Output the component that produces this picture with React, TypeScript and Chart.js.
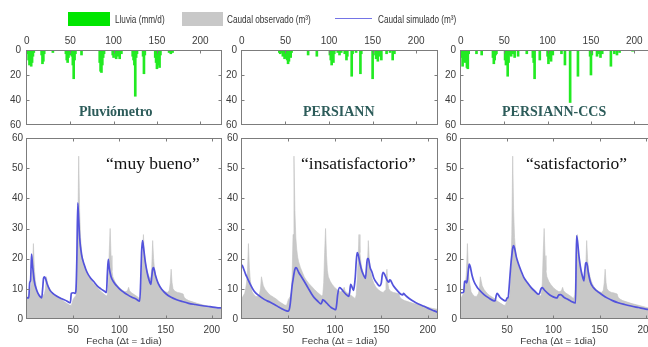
import React, { useEffect, useRef } from 'react';
import { Chart, registerables } from 'chart.js';

Chart.register(...registerables);

// ---------- data ----------
const topXTicks = [0, 50, 100, 150, 200];
const bottomXTicks = [50, 100, 150, 200];
const rainYTicks = [0, 20, 40, 60];
const flowYTicks = [0, 10, 20, 30, 40, 50, 60];

const panelNames = ['Pluviómetro', 'PERSIANN', 'PERSIANN-CCS'];
const panelRatings = ['“muy bueno”', '“insatisfactorio”', '“satisfactorio”'];
const legendLabels = ['Lluvia (mm/d)', 'Caudal observado (m³)', 'Caudal simulado (m³)'];
const xTitle = 'Fecha (Δt = 1dia)';

// observed discharge (same in every panel)
const obsDays = [0,1,2,3,4,5,6,7,8,9,10,11,13,15,17,19,20,21,22,23,25,27,29,31,34,37,40,43,46,48,49,50,51,52,53,54,55,56,57,58,59,60,61,63,65,67,69,72,75,78,81,84,86,87,88,89,90,91,92,93,95,97,100,103,106,108,109,110,111,113,116,119,121,122,123,124,125,126,127,128,129,131,133,134,135,136,137,138,140,142,144,147,150,152,154,155,156,157,158,160,163,166,169,170,172,175,180,185,190,195,200,205,211];
const obsFlow = [7,7.5,8,8.5,10,12,16,25,17,13,11,9,8,7.5,7.5,8.5,10,14,12.5,11,9.8,9,8.3,7.8,7.2,6.6,5.8,5.2,4.6,4.5,5.5,6.5,7,7.5,9,14,28,54,36,27,23,20.5,19,17,15.5,14,13,11.8,10.8,9.8,8.9,8.1,7.6,8,12,22,30,21,16,14,12.5,11.5,10.4,9.6,9,9.2,9.6,10.5,9.4,8.7,8.1,7.5,7,6.8,8,13,20,28,22,19,17,15,13.5,13.5,17,26,20,16.5,13.5,11.8,10.6,9.6,9,8.8,9.5,12,16.5,12,10,9.2,8.8,8.6,8.3,7.2,6.6,6.1,5.6,5.1,4.7,4.3,3.9,3.5,3.2];

// rainfall, rain gauge
const rainPluvDays = [1,2,3,4,5,6,7,8,17,18,19,20,30,45,46,47,48,50,52,53,54,55,56,63,84,85,86,87,88,89,99,100,101,103,105,107,109,122,123,124,125,126,127,134,135,136,148,149,150,151,152,153,154,164,166,168];
const rainPluvMm = [3,8,12,6,13,10,5,2,4,11,9,3,2,3,8,10,6,4,5,12,23,8,3,4,10,17,18,12,6,3,4,6,3,7,5,7,3,5,8,12,37,6,3,5,19,4,6,10,15,12,8,14,4,2,3,2];

// rainfall, PERSIANN
const rainPersDays = [43,44,46,47,48,49,50,51,52,53,54,55,56,57,76,86,101,102,103,104,105,106,110,112,114,118,120,121,126,127,131,136,137,150,151,154,156,158,160,166,170,173,175];
const rainPersMm = [2,3,2,5,3,7,4,6,8,11,9,5,6,2,4,5,4,8,12,6,10,3,2,4,2,3,8,5,21,3,2,19,3,23,4,7,9,5,8,3,2,8,3];

// rainfall, PERSIANN-CCS
const rainCcsDays = [1,2,3,4,5,6,7,8,9,18,24,37,38,39,40,41,51,52,53,54,55,56,58,60,62,66,76,83,84,85,91,100,101,103,104,106,116,120,126,135,149,150,151,157,159,161,163,173,177,180,183,198];
const rainCcsMm = [6,13,9,4,10,7,14,15,3,3,4,6,11,8,4,3,8,12,6,21,10,4,5,3,6,5,3,6,10,23,8,5,11,7,9,4,3,12,42,21,5,20,4,5,3,6,3,13,3,4,2,1];

// simulated discharge
const simPluvDays = [0,2,3,4,5,6,8,10,12,14,16,17,18,19,20,22,25,28,32,37,43,47,48,50,52,53,54,55,56,57,59,62,65,69,72,76,80,84,86,87,88,89,91,94,97,101,105,109,113,118,122,123,124,125,126,128,130,132,134,135,136,137,139,142,146,151,156,162,168,175,182,190,198,205,211];
const simPluvFlow = [7,7,12,13,21.5,18,12.5,10,8.5,7.5,7,10,13.5,14,13.5,11.5,9.5,8.5,7.6,6.8,6,5.4,8.5,8.7,8.5,9.5,20,38.5,33,27,21.5,18,15.5,13.5,12.5,11,10,9.2,8.8,15,19.8,17,14,12.2,11,9.7,8.8,8,7.3,6.6,5.9,12,22,26,24,19,15.5,13,11.5,14,16.5,17,14.5,11.8,9.8,8.2,7.2,6.4,5.8,5.2,4.8,4.4,4.1,3.8,3.6];

const simPersDays = [0,2,4,6,9,13,18,24,30,35,40,44,48,50,51,52,53,54,55,56,57,58,59,61,64,67,71,75,78,82,85,86,87,88,90,93,96,99,101,102,103,105,107,109,112,115,116,117,118,120,121,122,123,124,125,127,129,131,133,134,135,136,138,140,142,145,148,150,151,152,154,156,158,159,160,163,167,171,173,174,176,180,185,190,196,202,207,211];
const simPersFlow = [18,16.5,14.8,13.5,11.5,9.3,7.8,6.5,5.6,4.8,3.9,3.2,2.7,2.6,3.2,5,8,11,13,15,16.5,17,16.8,15.5,14,12.5,10.4,8.3,7,5.8,5,5.5,6.4,6.2,5.7,4.7,3.8,3.3,3.1,5,8,10.4,10,9.2,8.2,7.5,9,11.5,11,9.5,11,14,19,22,21.5,18.5,16,14.5,13.5,17,20,20,17,15.5,13.5,12,11,12,14.5,15.5,14.5,13,12.2,13,12.8,11,9.5,8.2,8,8.5,7.8,6.8,5.8,5,4.2,3.3,2.7,2.2];

const simCcsDays = [0,2,3,4,5,6,7,8,9,10,12,14,17,20,25,30,35,37,38,39,40,42,45,48,49,50,51,52,53,54,55,56,57,58,60,62,65,68,72,76,80,84,85,86,87,88,90,94,98,102,104,105,106,108,111,115,119,124,125,126,128,130,132,133,134,135,136,138,140,143,147,152,158,164,170,177,184,192,200,206,211];
const simCcsFlow = [8.7,8.7,9,12.5,12.6,12,13,16,18.2,17.5,14.5,12.5,10.8,9.6,8.1,7,6.1,6,7.5,8.5,8.3,7.3,6.5,6,6.3,7,7,10,14,18,21,23.5,24.3,23.5,20.5,18.5,16,13.8,12,10.4,9.2,8.2,8.5,9.5,10.2,10.4,9.7,8.5,7.6,7.1,7,7.6,8,8.1,7.3,6.6,5.9,5.3,27.6,26,20,16,13.5,12.6,16,18.5,18.7,15,12.3,10.5,9.3,8.2,7,6.1,5.4,4.8,4.3,3.8,3.3,3.1,2.9];

// ---------- layout / style ----------
const CW = 680;
const CH = 347;
const TOP = { top: 50, bottom: 125 };
const BOT = { top: 138, bottom: 319 };
const Y_AXIS_W = 24;
const TICK_FONT = { family: '"Liberation Sans", Arial, sans-serif', size: 10 };
const TICK_COLOR = '#3c3c3c';
const GREEN = '#22ea22';
const GRAY = '#c8c8c8';
const BLUE = '#5353dc';

const PANELS = [
  { left: 26, right: 222, topPad: 5, rainDays: rainPluvDays, rainMm: rainPluvMm, simDays: simPluvDays, simFlow: simPluvFlow, nameX: 79, noteX: 106 },
  { left: 241, right: 438, topPad: 4, rainDays: rainPersDays, rainMm: rainPersMm, simDays: simPersDays, simFlow: simPersFlow, nameX: 303, noteX: 301 },
  { left: 460, right: 656, topPad: 4, rainDays: rainCcsDays, rainMm: rainCcsMm, simDays: simCcsDays, simFlow: simCcsFlow, nameX: 502, noteX: 526 },
];

const pairs = (xs: number[], ys: number[]) => xs.map((x, i) => ({ x, y: ys[i] }));
const fixTicks = (vals: number[]) => (s: any) => { s.ticks = vals.map((v) => ({ value: v })); };

const boxPlugin = {
  id: 'matlabBox',
  afterDraw(chart: any) {
    const { ctx, chartArea: a, scales } = chart;
    const L = Math.round(a.left) + 0.5;
    const R = Math.round(a.right) - 0.5;
    const T = Math.round(a.top) + 0.5;
    const B = Math.round(a.bottom) - 0.5;
    ctx.save();
    ctx.strokeStyle = '#7c7c7c';
    ctx.lineWidth = 1;
    ctx.strokeRect(L, T, R - L, B - T);
    ctx.beginPath();
    const len = 3;
    for (const t of scales.x.ticks) {
      const px = Math.round(scales.x.getPixelForValue(t.value)) + 0.5;
      if (px <= L + 1 || px >= R - 1) continue;
      ctx.moveTo(px, T); ctx.lineTo(px, T + len);
      ctx.moveTo(px, B); ctx.lineTo(px, B - len);
    }
    for (const t of scales.y.ticks) {
      const py = Math.round(scales.y.getPixelForValue(t.value)) + 0.5;
      if (py <= T + 1 || py >= B - 1) continue;
      ctx.moveTo(L, py); ctx.lineTo(L + len, py);
      ctx.moveTo(R, py); ctx.lineTo(R - len, py);
    }
    ctx.stroke();
    ctx.restore();
  },
};

const noGrid = { display: false, drawTicks: false };

function makeRainChart(canvas: HTMLCanvasElement, p: any) {
  return new Chart(canvas, {
    type: 'bar',
    data: {
      datasets: [{
        data: pairs(p.rainDays, p.rainMm),
        backgroundColor: GREEN,
        borderWidth: 0,
        barThickness: 2,
      }],
    },
    options: {
      responsive: false,
      animation: false,
      events: [],
      layout: { padding: { left: p.left - Y_AXIS_W, right: CW - p.right, top: 0, bottom: CH - TOP.bottom } },
      plugins: { legend: { display: false }, tooltip: { enabled: false } },
      scales: {
        x: {
          type: 'linear', position: 'top', min: -1, max: 225, offset: false,
          grid: noGrid, border: { display: false },
          afterFit: (s: any) => { s.height = TOP.top; },
          afterBuildTicks: fixTicks(topXTicks),
          ticks: { padding: 3, font: TICK_FONT, color: TICK_COLOR, maxRotation: 0, autoSkip: false },
        },
        y: {
          type: 'linear', reverse: true, min: 0, max: 60,
          grid: noGrid, border: { display: false },
          afterFit: (s: any) => { s.width = Y_AXIS_W; },
          afterBuildTicks: fixTicks(rainYTicks),
          ticks: { padding: p.topPad, font: TICK_FONT, color: TICK_COLOR },
        },
      },
    } as any,
    plugins: [boxPlugin],
  } as any);
}

function makeFlowChart(canvas: HTMLCanvasElement, p: any) {
  return new Chart(canvas, {
    type: 'line',
    data: {
      datasets: [
        {
          data: pairs(p.simDays, p.simFlow),
          borderColor: BLUE, borderWidth: 1.7, pointRadius: 0, fill: false,
          cubicInterpolationMode: 'monotone', order: 1,
        },
        {
          data: pairs(obsDays, obsFlow),
          borderColor: '#c2c2c2', borderWidth: 0.6, backgroundColor: GRAY,
          fill: 'origin', pointRadius: 0, tension: 0, order: 2,
        },
      ],
    },
    options: {
      responsive: false,
      animation: false,
      events: [],
      layout: { padding: { left: p.left - Y_AXIS_W, right: CW - p.right, top: BOT.top, bottom: 0 } },
      plugins: { legend: { display: false }, tooltip: { enabled: false } },
      scales: {
        x: {
          type: 'linear', min: -1, max: 211, offset: false,
          grid: noGrid, border: { display: false },
          afterFit: (s: any) => { s.height = CH - BOT.bottom; },
          afterBuildTicks: fixTicks(bottomXTicks),
          ticks: { padding: 5, font: TICK_FONT, color: TICK_COLOR, maxRotation: 0, autoSkip: false },
          title: { display: true, text: xTitle, color: TICK_COLOR, padding: 0, font: { family: TICK_FONT.family, size: 9.8 } },
        },
        y: {
          type: 'linear', min: 0, max: 60,
          grid: noGrid, border: { display: false },
          afterFit: (s: any) => { s.width = Y_AXIS_W; },
          afterBuildTicks: fixTicks(flowYTicks),
          ticks: { padding: 3, font: TICK_FONT, color: TICK_COLOR },
        },
      },
    } as any,
    plugins: [boxPlugin],
  } as any);
}

const abs = (extra: any) => ({ position: 'absolute', whiteSpace: 'nowrap', ...extra });

export default function App() {
  const refs = useRef<(HTMLCanvasElement | null)[]>([]);

  useEffect(() => {
    const charts: any[] = [];
    PANELS.forEach((p, i) => {
      const c1 = refs.current[2 * i];
      const c2 = refs.current[2 * i + 1];
      if (c1) charts.push(makeRainChart(c1, p));
      if (c2) charts.push(makeFlowChart(c2, p));
    });
    return () => charts.forEach((c) => c.destroy());
  }, []);

  const legendFont = { fontFamily: '"Liberation Sans", Arial, sans-serif', fontSize: 10.5, color: '#333', lineHeight: '14px', transform: 'scaleX(0.78)', transformOrigin: 'left center' };

  return (
    <div style={{ position: 'fixed', left: 0, top: 0, width: 648, height: 347, overflow: 'hidden', background: '#fff' }}>
      {PANELS.map((p, i) => (
        <React.Fragment key={i}>
          <canvas ref={(el) => { refs.current[2 * i] = el; }} width={CW} height={CH}
            style={{ position: 'absolute', left: 0, top: 0, width: CW, height: CH }} />
          <canvas ref={(el) => { refs.current[2 * i + 1] = el; }} width={CW} height={CH}
            style={{ position: 'absolute', left: 0, top: 0, width: CW, height: CH }} />
        </React.Fragment>
      ))}

      {/* legend */}
      <div style={abs({ left: 68, top: 12, width: 42, height: 14, background: '#00e600' })} />
      <div style={abs({ left: 115, top: 12, ...legendFont })}>{legendLabels[0]}</div>
      <div style={abs({ left: 182, top: 12, width: 41, height: 14, background: GRAY })} />
      <div style={abs({ left: 227, top: 12, ...legendFont })}>{legendLabels[1]}</div>
      <div style={abs({ left: 335, top: 18, width: 37, height: 0, borderTop: '1.5px solid #7474e6' })} />
      <div style={abs({ left: 378, top: 12, ...legendFont })}>{legendLabels[2]}</div>

      {PANELS.map((p, i) => (
        <React.Fragment key={'t' + i}>
          <div style={abs({ left: p.nameX, top: 104, lineHeight: '16px', fontFamily: '"Liberation Serif", serif', fontWeight: 'bold', fontSize: 14, color: '#2d5c5a' })}>{panelNames[i]}</div>
          <div style={abs({ left: p.noteX, top: 153, lineHeight: '20px', fontFamily: '"Liberation Serif", serif', fontSize: 17.5, color: '#111' })}>{panelRatings[i]}</div>
        </React.Fragment>
      ))}
    </div>
  );
}
